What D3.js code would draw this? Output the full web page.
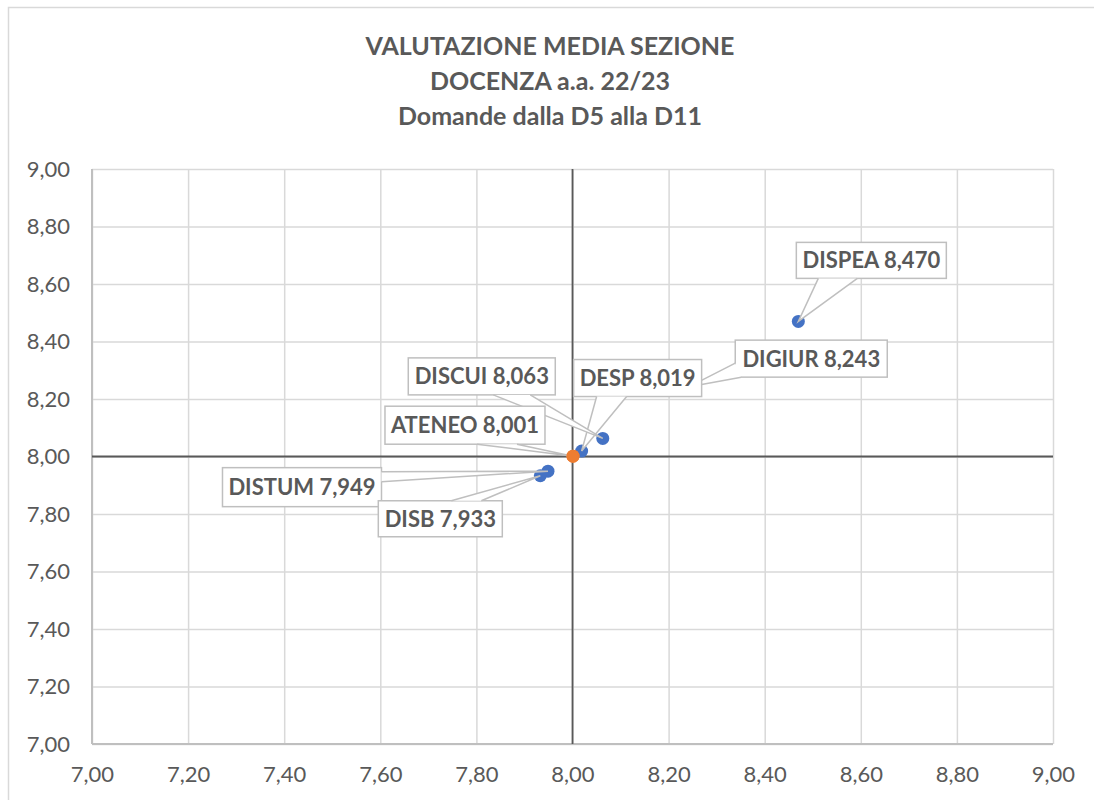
<!DOCTYPE html>
<html>
<head>
<meta charset="utf-8">
<script src="https://cdn.jsdelivr.net/npm/d3@7"></script>
<style>
  body { margin: 0; background: #fff; }
  svg { display: block; font-family: Lato, "Open Sans", sans-serif; }
</style>
</head>
<body>
<svg id="chart" width="1094" height="800"></svg>
<script>
// data
const titleLines = ["VALUTAZIONE MEDIA SEZIONE", "DOCENZA a.a. 22/23", "Domande dalla D5 alla D11"];
const names = ["DISPEA", "DIGIUR", "DESP", "DISCUI", "DISTUM", "DISB"];
const xValues = [8.470, 8.243, 8.019, 8.063, 7.949, 7.933];
const yValues = [8.470, 8.243, 8.019, 8.063, 7.949, 7.933];
const ateneoName = ["ATENEO"];
const ateneoX = [8.001];
const ateneoY = [8.001];
const tickValues = [7.0, 7.2, 7.4, 7.6, 7.8, 8.0, 8.2, 8.4, 8.6, 8.8, 9.0];

// callout boxes: center offset from the point, size, wedge base points in box coords
const callouts = {
  DISPEA: { dx: 73, dy: -61, w: 150, h: 36, base: [[22, 36], [61, 36]] },
  DIGIUR: { dx: 122, dy: -28, w: 152, h: 37, base: [[0, 23], [6, 37]] },
  DESP: { dx: 56, dy: -73, w: 128, h: 37, base: [[23, 37], [53, 37]] },
  DISCUI: { dx: -121, dy: -62, w: 147, h: 37, base: [[85, 37], [122, 37]] },
  ATENEO: { dx: -108, dy: -31, w: 160, h: 38, base: [[92, 38], [132, 38]] },
  DISTUM: { dx: -246, dy: 16, w: 159, h: 39, base: [[159, 4], [159, 14]] },
  DISB: { dx: -100, dy: 43, w: 124, h: 36, base: [[73, 0], [103, 0]] }
};

const grey = "#595959";
const it = d3.formatLocale({ decimal: ",", thousands: ".", grouping: [3], currency: ["", "€"] });
const fmt2 = it.format(".2f");
const fmt3 = it.format(".3f");

const svg = d3.select("#chart");

// chart area border
svg.append("rect")
  .attr("x", 8.5).attr("y", 7.5)
  .attr("width", 1100).attr("height", 800)
  .attr("fill", "none").attr("stroke", "#d9d9d9").attr("stroke-width", 1.5);

const plotLeft = 92, plotRight = 1053, plotTop = 169, plotBottom = 744;
const x = d3.scaleLinear().domain([7, 9]).range([plotLeft, plotRight]);
const y = d3.scaleLinear().domain([7, 9]).range([plotBottom, plotTop]);

// title
svg.append("text")
  .attr("x", 550).attr("y", 55)
  .attr("text-anchor", "middle")
  .attr("fill", grey)
  .style("font-size", "25px")
  .style("font-weight", "bold")
  .selectAll("tspan")
  .data(titleLines)
  .join("tspan")
  .attr("x", 550)
  .attr("dy", (d, i) => i === 0 ? 0 : 35)
  .text(d => d);

// gridlines
svg.append("g")
  .attr("transform", `translate(0,${plotBottom})`)
  .call(d3.axisBottom(x).tickValues(tickValues).tickSize(-(plotBottom - plotTop)).tickFormat(""))
  .call(g => g.select(".domain").remove())
  .call(g => g.selectAll("line").attr("stroke", "#d9d9d9").attr("stroke-width", 1.5));
svg.append("g")
  .attr("transform", `translate(${plotLeft},0)`)
  .call(d3.axisLeft(y).tickValues(tickValues).tickSize(-(plotRight - plotLeft)).tickFormat(""))
  .call(g => g.select(".domain").remove())
  .call(g => g.selectAll("line").attr("stroke", "#d9d9d9").attr("stroke-width", 1.5));

// frame on left and bottom
svg.append("line").attr("x1", plotLeft).attr("x2", plotLeft).attr("y1", plotTop).attr("y2", plotBottom)
  .attr("stroke", "#bfbfbf").attr("stroke-width", 2);
svg.append("line").attr("x1", plotLeft).attr("x2", plotRight).attr("y1", plotBottom).attr("y2", plotBottom)
  .attr("stroke", "#bfbfbf").attr("stroke-width", 2);

// tick labels
svg.append("g")
  .attr("transform", `translate(0,${plotBottom})`)
  .call(d3.axisBottom(x).tickValues(tickValues).tickSize(0).tickPadding(22).tickFormat(fmt2))
  .call(g => g.select(".domain").remove())
  .call(g => g.selectAll("text").attr("fill", grey).style("font-size", "22px").style("font-family", "Lato, sans-serif"));
svg.append("g")
  .attr("transform", `translate(${plotLeft},0)`)
  .call(d3.axisLeft(y).tickValues(tickValues).tickSize(0).tickPadding(22).tickFormat(fmt2))
  .call(g => g.select(".domain").remove())
  .call(g => g.selectAll("text").attr("fill", grey).style("font-size", "22px").style("font-family", "Lato, sans-serif"));

// axes crossing at 8,00
svg.append("line").attr("x1", x(8)).attr("x2", x(8)).attr("y1", plotTop).attr("y2", plotBottom)
  .attr("stroke", grey).attr("stroke-width", 1.8);
svg.append("line").attr("x1", plotLeft).attr("x2", plotRight).attr("y1", y(8)).attr("y2", y(8))
  .attr("stroke", grey).attr("stroke-width", 1.8);

// points
const depts = names.map((n, i) => ({ name: n, x: xValues[i], y: yValues[i], color: "#4472c4" }));
const ateneo = ateneoName.map((n, i) => ({ name: n, x: ateneoX[i], y: ateneoY[i], color: "#ed7d31" }));
const all = depts.concat(ateneo);

svg.append("g").selectAll("circle")
  .data(all)
  .join("circle")
  .attr("cx", d => x(d.x))
  .attr("cy", d => y(d.y))
  .attr("r", 6.5)
  .attr("fill", d => d.color);

// callouts
const labels = svg.append("g");
all.forEach(d => {
  const c = callouts[d.name];
  const px = x(d.x), py = y(d.y);
  const bx = px + c.dx - c.w / 2, by = py + c.dy - c.h / 2;
  const g = labels.append("g");
  g.append("rect")
    .attr("x", bx).attr("y", by)
    .attr("width", c.w).attr("height", c.h)
    .attr("fill", "#fff").attr("stroke", "#bfbfbf").attr("stroke-width", 1.5);
  g.append("path")
    .attr("d", `M${bx + c.base[0][0]},${by + c.base[0][1]}L${px},${py}L${bx + c.base[1][0]},${by + c.base[1][1]}`)
    .attr("fill", "#fff").attr("stroke", "#bfbfbf").attr("stroke-width", 1.5);
  g.append("text")
    .attr("x", bx + c.w / 2).attr("y", by + c.h / 2 + 8)
    .attr("text-anchor", "middle")
    .attr("fill", grey)
    .style("font-size", "22px")
    .style("font-weight", "bold")
    .text(`${d.name} ${fmt3(d.x)}`);
});

// orange point stays on top of the wedges
svg.append("g").selectAll("circle")
  .data(ateneo)
  .join("circle")
  .attr("cx", d => x(d.x))
  .attr("cy", d => y(d.y))
  .attr("r", 6.5)
  .attr("fill", d => d.color);
</script>
</body>
</html>
